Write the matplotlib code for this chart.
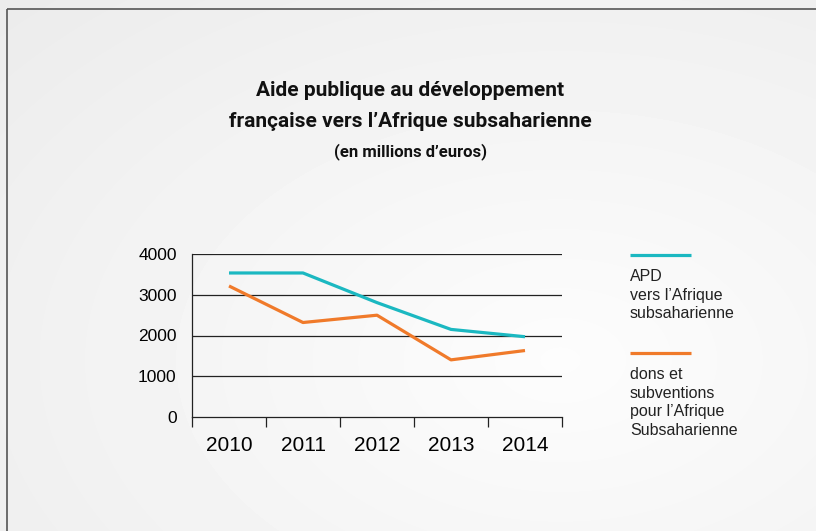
import numpy as np
import matplotlib
matplotlib.use('Agg')
import matplotlib.pyplot as plt
from matplotlib.patches import Rectangle

years = ['2010', '2011', '2012', '2013', '2014']
apd_total = [3540, 3540, 2810, 2150, 1970]
dons_subventions = [3220, 2320, 2500, 1400, 1630]
y_ticks = [0, 1000, 2000, 3000, 4000]

title_lines = "Aide publique au développement\nfrançaise vers l’Afrique subsaharienne"
subtitle = "(en millions d’euros)"
legend_labels = ["APD\nvers l’Afrique\nsubsaharienne",
                 "dons et\nsubventions\npour l’Afrique\nSubsaharienne"]

teal = '#1bb8c1'
orange = '#f07a2a'

W, H = 816, 531
fig = plt.figure(figsize=(W / 100, H / 100), dpi=100)

# soft grey background gradient, slide style
bg = fig.add_axes([0, 0, 1, 1])
yy, xx = np.mgrid[0:H, 0:W]
r = np.sqrt(((xx - 560) / W) ** 2 + ((yy - 360) / H) ** 2)
shade = 0.99 - 0.07 * r
bg.imshow(shade, cmap='gray', vmin=0, vmax=1, extent=[0, W, H, 0], aspect='auto')
bg.add_patch(Rectangle((6.5, 8.5), W + 20, H + 20, fill=False, edgecolor='#555555', lw=1.2))
bg.set_xlim(0, W)
bg.set_ylim(H, 0)
bg.axis('off')

fig.text(410 / W, 1 - 106 / H, title_lines, ha='center', va='center', fontsize=15,
         fontweight='bold', family='Roboto', linespacing=1.75, color='#111111')
fig.text(411 / W, 1 - 152 / H, subtitle, ha='center', va='center', fontsize=12,
         fontweight='bold', family='Roboto', color='#111111')

ax = fig.add_axes([192 / W, 1 - 416.7 / H, 370 / W, 162.4 / H])
ax.patch.set_alpha(0)
x = np.arange(len(years))
ax.plot(x, apd_total, color=teal, lw=2.3, solid_capstyle='butt')
ax.plot(x, dons_subventions, color=orange, lw=2.3, solid_capstyle='butt')

ax.set_xlim(-0.5, len(years) - 0.5)
ax.set_ylim(0, 4000)
ax.set_yticks(y_ticks)
ax.set_yticklabels([str(v) for v in y_ticks], fontsize=12.5, family='Liberation Sans')
ax.tick_params(axis='y', length=0, pad=11)
for v in y_ticks[1:]:
    ax.axhline(v, color='#222222', lw=0.9, zorder=0)

ax.set_xticks(x)
ax.set_xticklabels(years, fontsize=15, family='Liberation Sans')
ax.set_xticks(np.arange(-0.5, len(years)), minor=True)
ax.tick_params(axis='x', which='major', length=0, pad=14)
ax.tick_params(axis='x', which='minor', length=7, width=0.9, color='#222222')

for s in ['top', 'right']:
    ax.spines[s].set_visible(False)
ax.spines['left'].set_color('#222222')
ax.spines['bottom'].set_color('#222222')
ax.spines['left'].set_linewidth(0.9)
ax.spines['bottom'].set_linewidth(0.9)

# legend drawn by hand at the right
leg_x0, leg_x1 = 630, 691
for color, label, ly in [(teal, legend_labels[0], 255), (orange, legend_labels[1], 353)]:
    bg.plot([leg_x0, leg_x1], [ly, ly], color=color, lw=2.3, solid_capstyle='butt')
    bg.text(leg_x0, ly + 14, label, ha='left', va='top', fontsize=11.5,
            family='Liberation Sans', linespacing=1.3, color='#222222')

fig.savefig('out.png', dpi=100)
